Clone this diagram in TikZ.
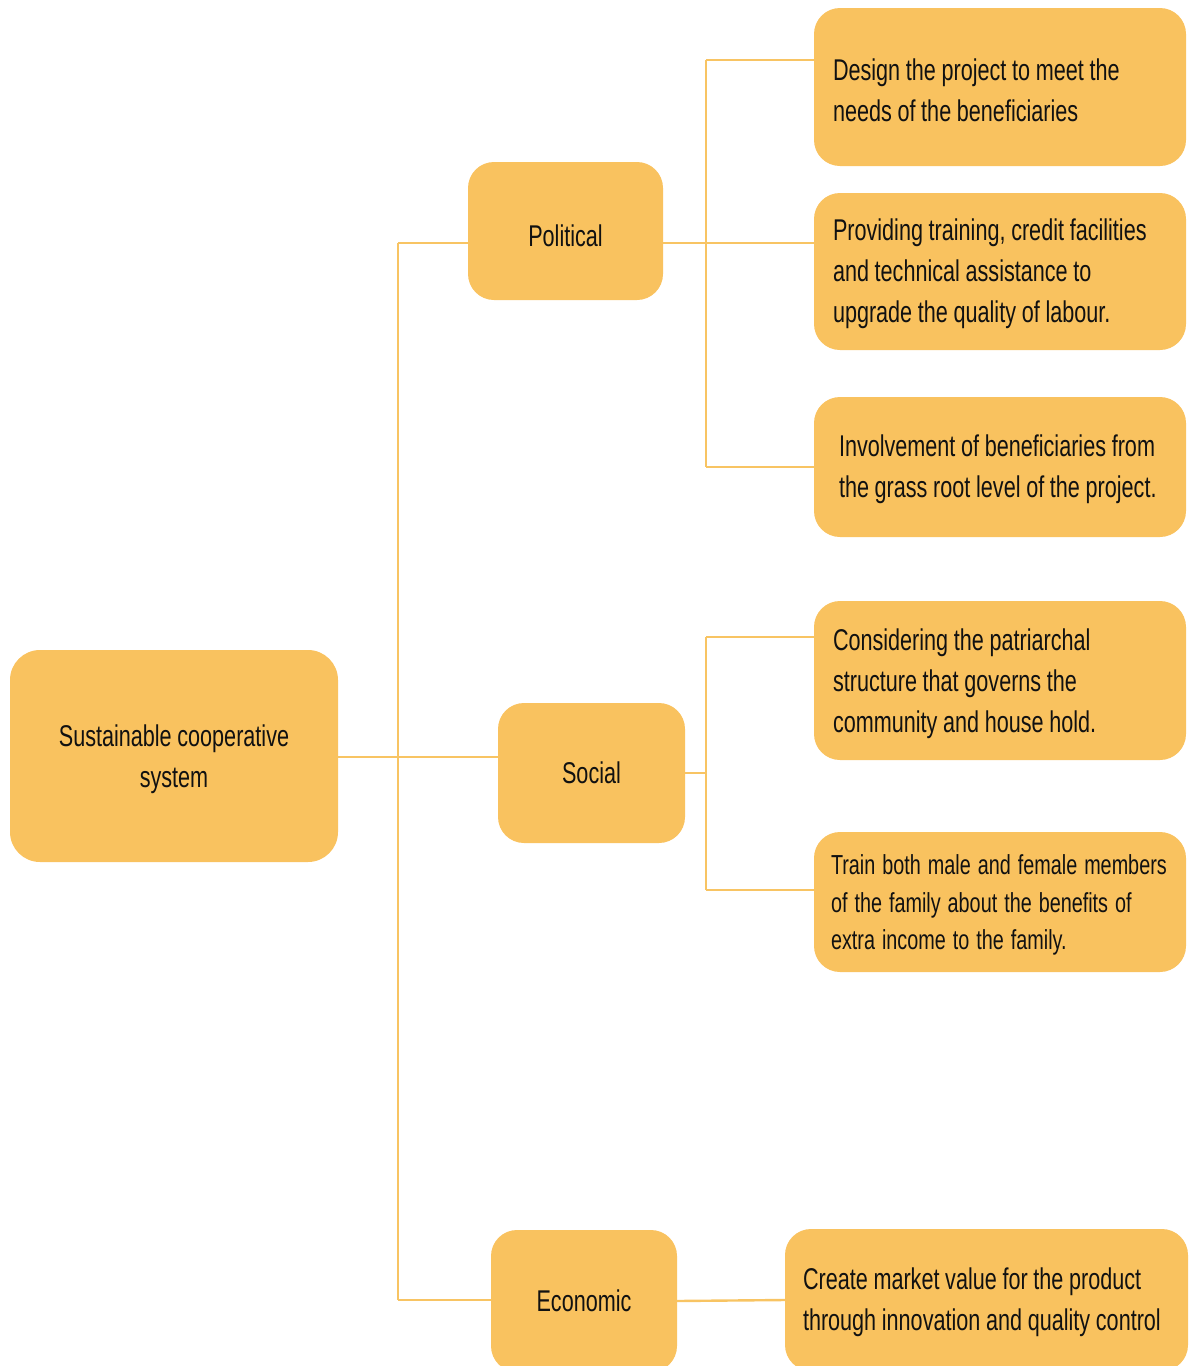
\documentclass[tikz,border=0pt]{standalone}
\usepackage{fontspec}
\setmainfont{Liberation Sans}[FakeStretch=0.72, WordSpace=0.95]
\definecolor{boxfill}{HTML}{F9C25F}
\definecolor{linkcol}{HTML}{F8C463}
\definecolor{ink}{HTML}{111111}
% natural word spacing inside left-aligned boxes
\newcommand\tightwords{\spaceskip=0pt\relax\xspaceskip=0pt\relax}
% move the ink down without changing the box size
\newcommand\lowerink[2]{\raisebox{-#1}[\height][\depth]{#2}}
\begin{document}
\begin{tikzpicture}[x=1pt,y=-1pt,
  box/.style={draw=none, fill=boxfill, rounded corners=26pt, text=ink,
    inner sep=0pt, font=\fontsize{30}{41}\selectfont},
  hub/.style={box, align=center},
  leaf/.style={box, align=left, inner xsep=19pt, minimum height=#1},
  link/.style={draw=linkcol, line width=2.4pt}
]
\useasboundingbox (0,0) rectangle (1195,1366);
\clip (0,0) rectangle (1195,1366);

% hub boxes
\node[hub, minimum width=328pt, minimum height=212pt, rounded corners=30pt] (root) at (174,756)
  {\lowerink{3pt}{Sustainable cooperative}\\\lowerink{3pt}{system}};
\node[hub, minimum width=195pt, minimum height=138pt] (pol) at (565.5,231) {\lowerink{5pt}{Political}};
\node[hub, minimum width=187pt, minimum height=140pt] (soc) at (591.5,773) {Social};
\node[hub, minimum width=186pt, minimum height=142pt] (eco) at (584,1301) {Economic};

% leaf boxes (one \mbox per printed line, so nothing rewraps)
\node[leaf=158pt, text width=334pt] (d1) at (1000,87)
  {\tightwords\lowerink{3pt}{Design the project to meet the}\\\lowerink{3pt}{needs of the beneficiaries}};
\node[leaf=157pt, text width=334pt] (d2) at (1000,271.5)
  {\tightwords\lowerink{2pt}{Providing training, credit facilities}\\\lowerink{2pt}{and technical assistance to}\\\lowerink{2pt}{upgrade the quality of labour.}};
\node[leaf=140pt, text width=322pt, inner xsep=25pt] (d3) at (1000,467)
  {\tightwords\lowerink{2pt}{Involvement of beneficiaries from}\\\lowerink{2pt}{the grass root level of the project.}};
\node[leaf=159pt, text width=334pt] (s1) at (1000,680.5)
  {\tightwords\lowerink{3pt}{Considering the patriarchal}\\\lowerink{3pt}{structure that governs the}\\\lowerink{3pt}{community and house hold.}};
\node[leaf=140pt, text width=338pt, inner xsep=17pt, font=\fontsize{27.5}{37.5}\selectfont] (s2) at (1000,902)
  {\spaceskip=7pt\relax\lowerink{3pt}{Train both male and female members}\\\lowerink{3pt}{of the family about the benefits of}\\\lowerink{3pt}{extra income to the family.}};
\node[leaf=142pt, text width=367pt, inner xsep=18pt] (e1) at (986.5,1300)
  {\tightwords\lowerink{2pt}{Create market value for the product}\\\lowerink{2pt}{through innovation and quality control}};

% junction points of the tree
\coordinate (jP) at (398,243);
\coordinate (jS) at (398,757);
\coordinate (jE) at (398,1300);
\coordinate (kP) at (706,243);
\coordinate (kP1) at (706,60);
\coordinate (kP3) at (706,467);
\coordinate (kS) at (706,773);
\coordinate (kS1) at (706,637);
\coordinate (kS2) at (706,890);

% trunk from the root to the three hubs
\draw[link] (jP) -- (jE);
\draw[link] (root.east |- jS) -- (jS -| soc.west);
\draw[link] (jP) -- (jP -| pol.west);
\draw[link] (jE) -- (jE -| eco.west);

% political branch
\draw[link] (pol.east |- kP) -- (kP -| d2.west);
\draw[link] (kP1) -- (kP3);
\draw[link] (kP1) -- (kP1 -| d1.west);
\draw[link] (kP3) -- (kP3 -| d3.west);

% social branch
\draw[link] (soc.east) -- (kS);
\draw[link] (kS1) -- (kS2);
\draw[link] (kS1) -- (kS1 -| s1.west);
\draw[link] (kS2) -- (kS2 -| s2.west);

% economic branch
\draw[link] (eco.east) -- (e1.west);
\end{tikzpicture}
\end{document}
